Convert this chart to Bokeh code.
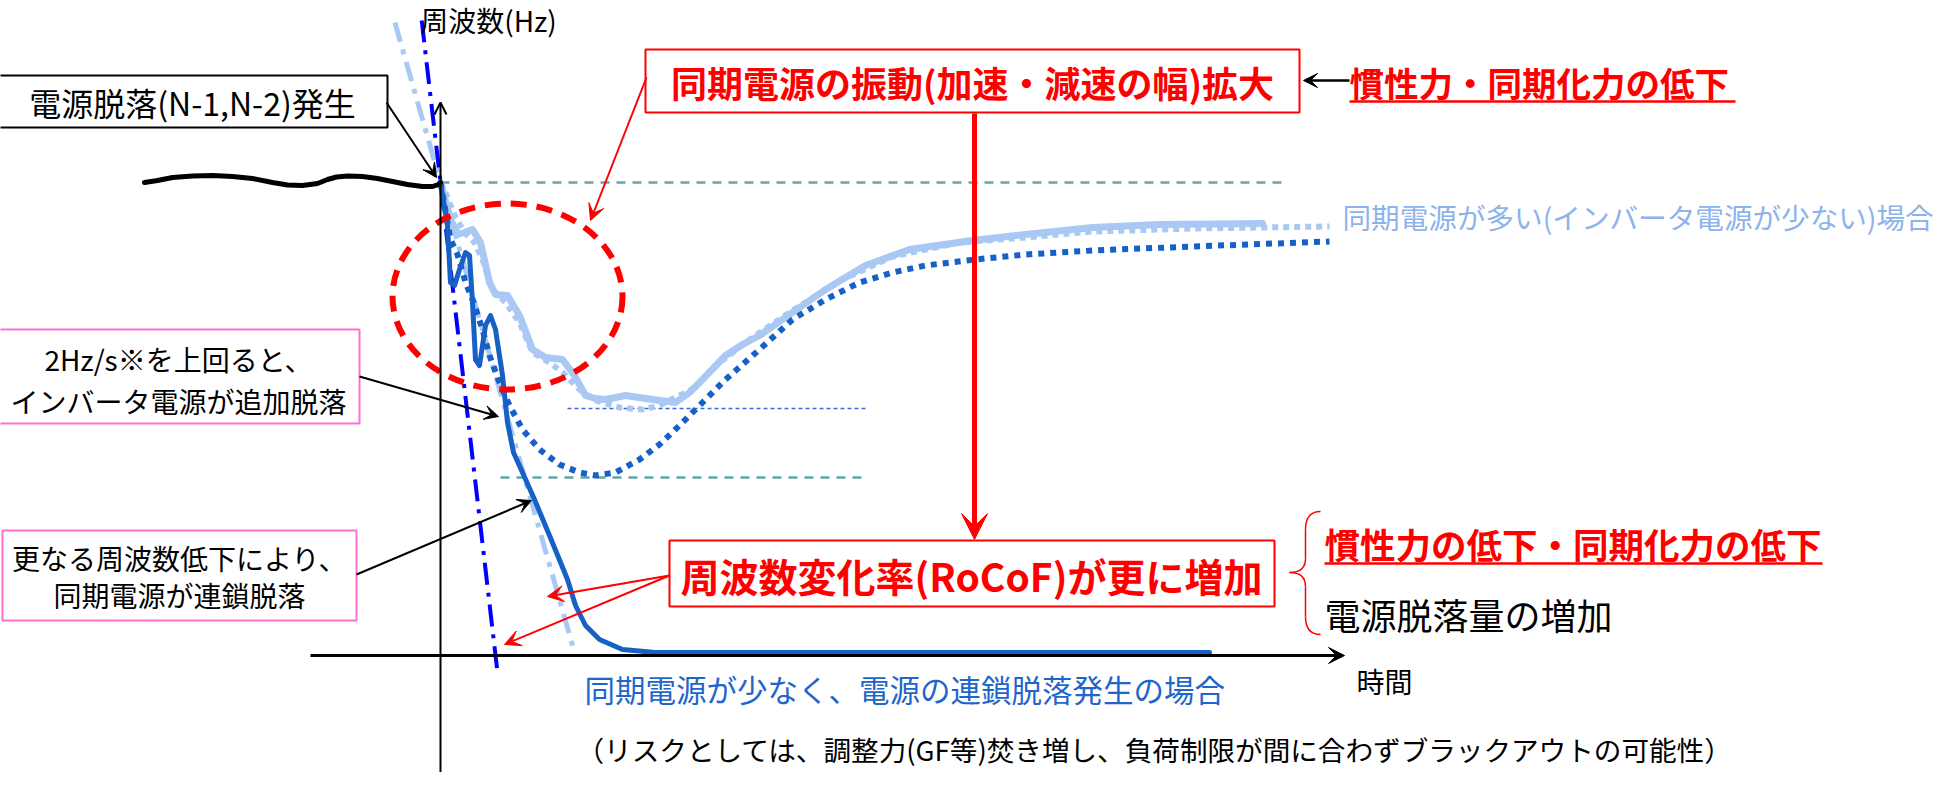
from bokeh.plotting import figure
from bokeh.models import Range1d, Label, Arrow, VeeHead, OpenHead
from bokeh.embed import file_html
from bokeh.resources import INLINE

FONT = "Noto Sans CJK JP"

# ---------------- data (time in arbitrary units, frequency in Hz) ----------------
t_pre = [-29.6, -28.3, -26.8, -24.8, -22.8, -20.8, -18.8, -16.8, -15.3, -13.8, -12.3, -11.3,
         -10.4, -9.3, -7.8, -6.3, -4.8, -3.3, -1.8, -0.8, -0.2, 0.0]
f_pre = [50.0, 50.02, 50.05, 50.065, 50.07, 50.06, 50.04, 50.0, 49.975, 49.97, 49.99, 50.03,
         50.055, 50.065, 50.06, 50.04, 50.01, 49.98, 49.96, 49.96, 49.98, 50.0]

# many synchronous generators (actual)
t_many = [0, 1.0, 1.7, 2.4, 3.2, 4.0, 4.9, 5.5, 6.7, 7.9, 9.2, 10.5, 12.2, 13.4, 14.5, 15.5, 16.5,
          18.5, 21.2, 23.5, 24.9, 26.2, 28.5, 30.2, 31.9, 35.2, 38.5, 42.5, 46.9, 53.2, 58.5,
          65.2, 71.9, 82.2]
f_many = [50.0, 49.63, 49.48, 49.50, 49.53, 49.40, 49.00, 48.88, 48.87, 48.67, 48.33, 48.25, 48.23,
          48.07, 47.87, 47.84, 47.83, 47.87, 47.83, 47.80, 47.90, 48.03, 48.27, 48.38, 48.47,
          48.70, 48.93, 49.17, 49.33, 49.42, 49.48, 49.55, 49.58, 49.59]

# many synchronous generators (dotted)
t_many_dot = [0, 0.5, 1.4, 2.4, 3.4, 4.2, 5.2, 6.5, 7.9, 9.2, 10.9, 12.2, 13.9, 15.2, 17.9, 20.2,
              21.9, 23.9, 25.2, 27.9, 31.2, 35.2, 40.2, 45.2, 51.9, 58.5, 65.2, 75.2, 81.9, 88.9]
f_many_dot = [50.0, 49.90, 49.67, 49.50, 49.40, 49.23, 48.93, 48.80, 48.60, 48.30, 48.20, 48.10,
              47.93, 47.83, 47.75, 47.73, 47.77, 47.87, 47.93, 48.20, 48.45, 48.72, 49.03, 49.26,
              49.40, 49.45, 49.51, 49.54, 49.55, 49.56]

# fewer synchronous generators (dotted, dark)
t_few_dot = [0, 1.0, 1.7, 2.5, 3.2, 4.2, 4.9, 5.9, 6.9, 8.2, 9.9, 11.9, 13.9, 15.5, 17.5, 19.9,
             21.9, 23.9, 25.2, 28.5, 31.9, 35.2, 38.5, 41.9, 45.2, 48.5, 53.5, 58.5, 65.2, 75.2, 88.9]
f_few_dot = [50.0, 49.43, 49.28, 49.00, 48.83, 48.53, 48.27, 48.00, 47.77, 47.53, 47.33, 47.18,
             47.10, 47.07, 47.10, 47.23, 47.38, 47.57, 47.70, 48.03, 48.33, 48.63, 48.83, 49.00,
             49.10, 49.17, 49.23, 49.28, 49.32, 49.36, 49.41]

# cascading trip case
t_cascade = [0, 0.7, 1.0, 1.4, 1.9, 2.5, 2.9, 3.2, 3.5, 3.9, 4.5, 5.0, 5.5, 6.2, 6.7, 7.3, 8.2,
             9.4, 10.9, 12.7, 13.5, 14.5, 15.9, 18.2, 21.5, 76.9]
f_cascade = [50.0, 49.57, 49.00, 48.97, 49.13, 49.30, 49.27, 48.80, 48.23, 48.17, 48.57, 48.67,
             48.53, 48.07, 47.60, 47.30, 47.10, 46.83, 46.47, 46.03, 45.77, 45.57, 45.43, 45.33,
             45.30, 45.30]

# RoCoF tangent lines
t_rocof_many = [-4.56, 13.4]
f_rocof_many = [51.6, 45.3]
t_rocof_few = [-1.88, 5.7]
f_rocof_few = [51.62, 45.1]

# reference levels
ref_levels = [50.0, 47.05, 47.74]
ref_t0 = [0.0, 6.0, 12.7]
ref_t1 = [84.7, 42.8, 42.7]

# texts
txt_yaxis = "周波数(Hz)"
txt_xaxis = "時間"
txt_event = "電源脱落(N-1,N-2)発生"
txt_inv = ["2Hz/s※を上回ると、", "インバータ電源が追加脱落"]
txt_casc = ["更なる周波数低下により、", "同期電源が連鎖脱落"]
txt_osc = "同期電源の振動(加速・減速の幅)拡大"
txt_inertia1 = "慣性力・同期化力の低下"
txt_many = "同期電源が多い(インバータ電源が少ない)場合"
txt_rocof = "周波数変化率(RoCoF)が更に増加"
txt_inertia2 = "慣性力の低下・同期化力の低下"
txt_amount = "電源脱落量の増加"
txt_few = "同期電源が少なく、電源の連鎖脱落発生の場合"
txt_risk = "（リスクとしては、調整力(GF等)焚き増し、負荷制限が間に合わずブラックアウトの可能性）"

# ---------------- layout helpers (page pixel -> data) ----------------
X0, Y0, SX, SY = 448.0, 190.0, 10.0, 100.0


def tx(px):
    return (px - X0) / SX


def fy(py):
    return 50.0 - (py - Y0) / SY


p = figure(width=1940, height=772,
           x_range=Range1d(tx(8), tx(1948)), y_range=Range1d(fy(780), fy(8)),
           x_axis_type=None, y_axis_type=None, toolbar_location=None,
           output_backend="svg", min_border=0, outline_line_color=None,
           background_fill_color="white")
p.grid.visible = False

LB = "#A9C9F4"
DB = "#1760C6"
RED = "#FF0000"
TEAL = "#5FA5AA"

# reference dashed levels
p.segment(x0=ref_t0[:2], y0=ref_levels[:2], x1=ref_t1[:2], y1=ref_levels[:2],
          line_color=TEAL, line_width=2.5, line_dash="9 7")
p.segment(x0=ref_t0[2:], y0=ref_levels[2:], x1=ref_t1[2:], y1=ref_levels[2:],
          line_color="#4466D0", line_width=1.5, line_dash="4 3")

# axes
p.add_layout(Arrow(end=VeeHead(size=16, fill_color="black", line_color="black"),
                   x_start=tx(318), y_start=fy(663), x_end=tx(1352), y_end=fy(663),
                   line_color="black", line_width=3))
p.add_layout(Arrow(end=OpenHead(size=12, line_color="black", line_width=2),
                   x_start=tx(448), y_start=fy(790), x_end=tx(448), y_end=fy(110),
                   line_color="black", line_width=2))

# RoCoF lines
p.line(t_rocof_many, f_rocof_many, line_color=LB, line_width=5, line_dash="20 8 5 8")
p.line(t_rocof_few, f_rocof_few, line_color="#0000FF", line_width=4, line_dash="22 8 4 8")

# curves
p.line(t_many, f_many, line_color=LB, line_width=7, line_join="round", line_cap="round")
p.line(t_many_dot, f_many_dot, line_color=LB, line_width=6, line_dash="6 5", line_join="round")
p.line(t_few_dot, f_few_dot, line_color=DB, line_width=6, line_dash="6 6", line_join="round")
p.line(t_cascade, f_cascade, line_color=DB, line_width=5, line_join="round", line_cap="round")
p.line(t_pre, f_pre, line_color="black", line_width=5, line_join="round", line_cap="round")

# red dashed ellipse
p.ellipse(x=[tx(515)], y=[fy(304)], width=[23.0], height=[1.86], fill_color=None,
          line_color=RED, line_width=6, line_dash="16 10")


def box(l, t, r, b, color, lw=2, fill="white"):
    p.quad(left=[tx(l)], right=[tx(r)], top=[fy(t)], bottom=[fy(b)],
           fill_color=fill, line_color=color, line_width=lw)


def label(x, y, text, size, color="black", bold=False, align="center"):
    p.add_layout(Label(x=tx(x), y=fy(y), text=text, text_font=FONT,
                       text_font_size=f"{size}px", text_color=color,
                       text_font_style="bold" if bold else "normal",
                       text_align=align, text_baseline="middle"))


def arrow(x0, y0, x1, y1, color="black", lw=2, size=14):
    p.add_layout(Arrow(end=VeeHead(size=size, fill_color=color, line_color=color),
                       x_start=tx(x0), y_start=fy(y0), x_end=tx(x1), y_end=fy(y1),
                       line_color=color, line_width=lw))


# axis titles
label(496, 27, txt_yaxis, 28)
label(1392, 688, txt_xaxis, 28)

# event box
box(5, 83, 395, 135, "black")
label(200, 109, txt_event, 32)
arrow(394, 110, 444, 185)

# pink boxes
PINK = "#FF70D0"
box(5, 337, 367, 431, PINK)
label(186, 366, txt_inv[0], 28)
label(186, 408, txt_inv[1], 28)
arrow(367, 384, 506, 424)

box(10, 538, 364, 628, PINK)
label(187, 565, txt_casc[0], 28)
label(187, 602, txt_casc[1], 28)
arrow(364, 582, 539, 508)

# oscillation box
arrow(654, 85, 598, 228, color=RED, lw=2, size=16)
arrow(982, 121, 982, 547, color=RED, lw=5, size=26)
box(653, 57, 1307, 120, RED)
label(980, 89, txt_osc, 36, color=RED, bold=True)

arrow(1357, 88, 1311, 88, color="black", lw=2.5, size=14)
label(1357, 89, txt_inertia1, 34.5, color=RED, bold=True, align="left")
p.segment(x0=[tx(1357)], y0=[fy(109)], x1=[tx(1743)], y1=[fy(109)], line_color=RED, line_width=2.5)

label(1350, 224, txt_many, 28.6, color="#8DB3EA", align="left")

# RoCoF box
arrow(677, 583, 555, 604, color=RED, lw=2, size=16)
arrow(677, 583, 512, 652, color=RED, lw=2, size=16)
box(677, 548, 1282, 614, RED)
label(979, 582, txt_rocof, 39, color=RED, bold=True)

# brace
bx = [(1328, 519, 1313, 537, 1313, 519), (1313, 566, 1297, 580, 1313, 580),
      (1297, 580, 1313, 594, 1313, 580), (1313, 624, 1328, 642, 1313, 642)]
p.quadratic(x0=[tx(a[0]) for a in bx], y0=[fy(a[1]) for a in bx],
            x1=[tx(a[2]) for a in bx], y1=[fy(a[3]) for a in bx],
            cx=[tx(a[4]) for a in bx], cy=[fy(a[5]) for a in bx],
            line_color=RED, line_width=1.5)
p.segment(x0=[tx(1313), tx(1313)], y0=[fy(537), fy(594)], x1=[tx(1313), tx(1313)],
          y1=[fy(566), fy(624)], line_color=RED, line_width=1.5)

label(1332, 551, txt_inertia2, 35.5, color=RED, bold=True, align="left")
p.segment(x0=[tx(1332)], y0=[fy(571)], x1=[tx(1830)], y1=[fy(571)], line_color=RED, line_width=2.5)
label(1332, 621, txt_amount, 36, align="left")

label(592, 696, txt_few, 30.5, color="#1F66CC", align="left")
label(584, 756, txt_risk, 27.6, align="left")

open("out.html", "w").write(file_html(p, INLINE))
